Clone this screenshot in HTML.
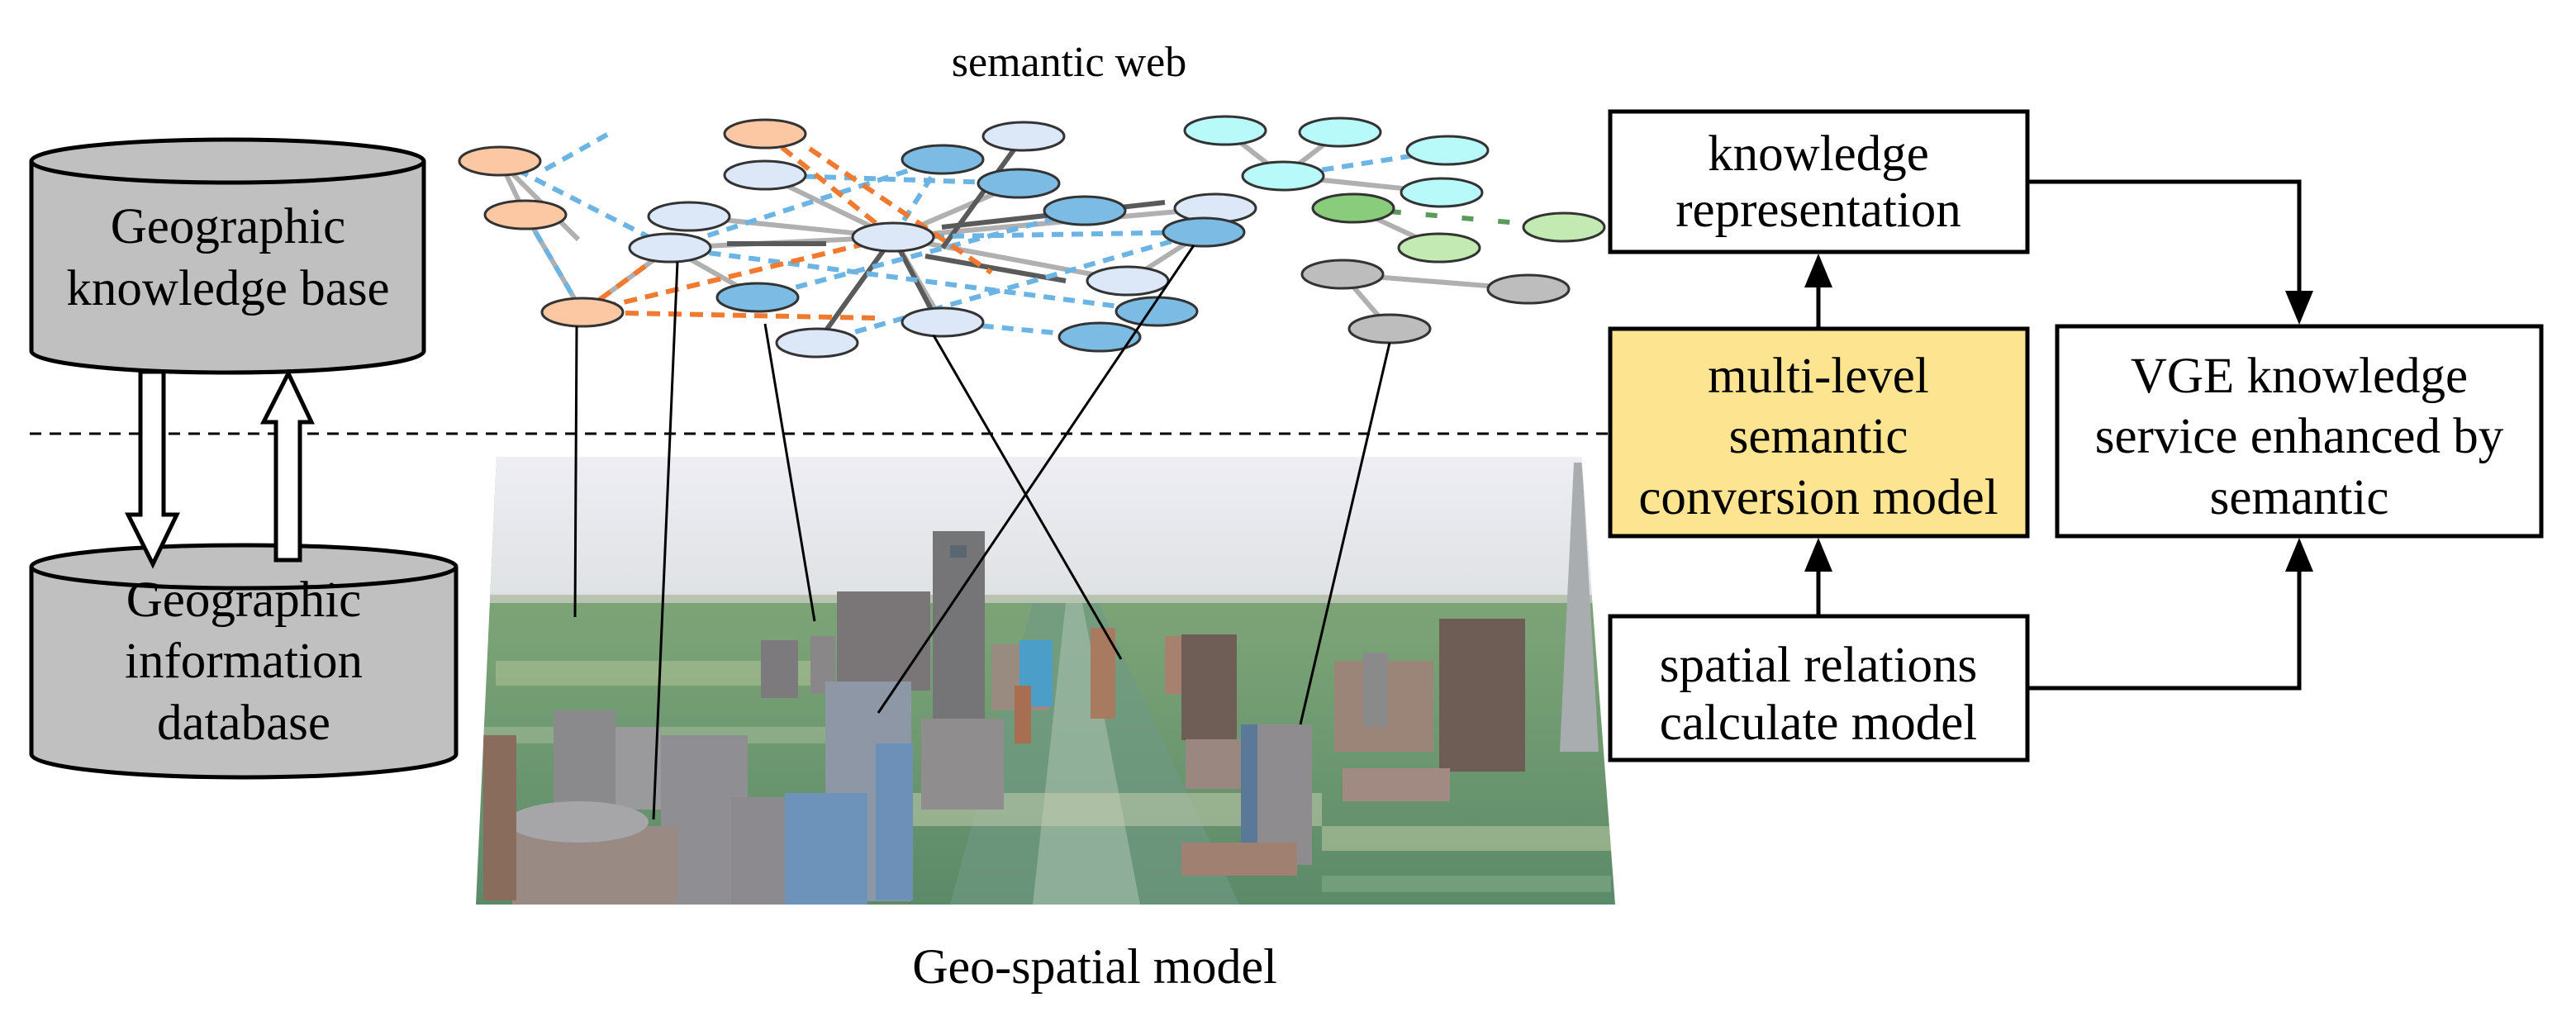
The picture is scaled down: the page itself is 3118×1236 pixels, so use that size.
<!DOCTYPE html>
<html><head><meta charset="utf-8"><style>
html,body{margin:0;padding:0;background:#fff}
svg{display:block}
text{font-family:"Liberation Serif",serif;fill:#000}
</style></head><body>
<svg width="3118" height="1236" viewBox="0 0 3118 1236" xmlns="http://www.w3.org/2000/svg">
<defs>
<linearGradient id="sky" x1="0" y1="0" x2="0" y2="1"><stop offset="0" stop-color="#eeeef4"/><stop offset="1" stop-color="#dfe2e4"/></linearGradient>
<linearGradient id="ground" x1="0" y1="0" x2="0" y2="1"><stop offset="0" stop-color="#86a87a"/><stop offset="0.4" stop-color="#7aa276"/><stop offset="1" stop-color="#5b8a68"/></linearGradient>
<clipPath id="cityclip"><polygon points="601,553 1914,553 1955,1095 576,1095"/></clipPath>
</defs>

<g clip-path="url(#cityclip)">
<rect x="570" y="550" width="1400" height="550" fill="url(#ground)"/>
<rect x="570" y="550" width="1400" height="172" fill="url(#sky)"/>
<rect x="570" y="720" width="1400" height="10" fill="#b8c4b0"/>
<polygon points="1250,730 1330,730 1500,1095 1150,1095" fill="#6f9a86" opacity="0.6"/>
<polygon points="1290,730 1310,730 1380,1095 1250,1095" fill="#a8bfae" opacity="0.6"/>
<rect x="1100" y="960" width="500" height="40" fill="#c9cfb2" opacity="0.5"/>
<rect x="600" y="800" width="400" height="30" fill="#b6c69a" opacity="0.5"/>
<rect x="1600" y="1000" width="350" height="30" fill="#c4d0a8" opacity="0.5"/>
<rect x="580" y="880" width="420" height="20" fill="#a9c0a0" opacity="0.5"/>
<rect x="1600" y="1060" width="350" height="20" fill="#88b090" opacity="0.5"/>
<polygon points="1905,560 1915,560 1935,910 1888,910" fill="#a9adb0"/>
<rect x="1200" y="780" width="70" height="80" fill="#9a8b80"/>
<rect x="1234" y="775" width="40" height="80" fill="#4a9ec8"/>
<rect x="1228" y="830" width="20" height="70" fill="#a86e52"/>
<rect x="1320" y="760" width="30" height="110" fill="#a87a60"/>
<rect x="1410" y="770" width="40" height="70" fill="#a88070"/>
<rect x="921" y="775" width="45" height="70" fill="#7c7a7c"/>
<rect x="981" y="770" width="30" height="70" fill="#8a8788"/>
<rect x="1013" y="716" width="113" height="120" fill="#7a7678"/>
<rect x="1129" y="643" width="63" height="250" fill="#757476"/>
<rect x="1150" y="660" width="20" height="15" fill="#5a6670"/>
<rect x="1430" y="768" width="67" height="128" fill="#6e5e56"/>
<rect x="1615" y="800" width="120" height="110" fill="#9a8578"/>
<rect x="1650" y="790" width="30" height="90" fill="#8a8a8a"/>
<rect x="1742" y="749" width="104" height="185" fill="#6e5d55"/>
<rect x="1435" y="895" width="130" height="60" fill="#9a8880"/>
<rect x="1625" y="930" width="130" height="40" fill="#a08a82"/>
<rect x="1115" y="870" width="100" height="110" fill="#8f8d8e"/>
<rect x="999" y="825" width="104" height="266" fill="#8d97a6"/>
<rect x="1060" y="900" width="45" height="190" fill="#6d90b8"/>
<rect x="1502" y="877" width="86" height="170" fill="#8e8c8e"/>
<rect x="1502" y="877" width="20" height="170" fill="#5a7898"/>
<rect x="1430" y="1020" width="140" height="40" fill="#a08070"/>
<rect x="670" y="860" width="75" height="180" fill="#8a8a8c"/>
<rect x="745" y="880" width="55" height="100" fill="#9a9a9c"/>
<rect x="800" y="890" width="105" height="205" fill="#8f8e92"/>
<rect x="620" y="1000" width="200" height="95" fill="#9a8a84"/>
<ellipse cx="700" cy="995" rx="85" ry="25" fill="#a6a6a8"/>
<rect x="885" y="965" width="110" height="130" fill="#8c8a8e"/>
<rect x="950" y="960" width="100" height="135" fill="#6d93bb"/>
<rect x="585" y="890" width="40" height="200" fill="#8a6c5c"/>
</g>

<g stroke-width="6" fill="none">
<g stroke="#b0b0b0">
<line x1="605" y1="195" x2="636" y2="260"/><line x1="605" y1="195" x2="700" y2="290"/><line x1="811" y1="300" x2="1081" y2="287"/>
<line x1="926" y1="212" x2="1081" y2="287"/><line x1="811" y1="300" x2="705" y2="378"/><line x1="811" y1="300" x2="917" y2="360"/>
<line x1="1081" y1="287" x2="1365" y2="340"/><line x1="1081" y1="287" x2="1233" y2="222"/><line x1="1081" y1="287" x2="1141" y2="390"/>
<line x1="1457" y1="281" x2="1365" y2="340"/><line x1="1081" y1="287" x2="1471" y2="252"/><line x1="834" y1="262" x2="1081" y2="287"/>
<line x1="1483" y1="158" x2="1553" y2="213"/><line x1="1622" y1="160" x2="1553" y2="213"/><line x1="1553" y1="213" x2="1745" y2="233"/>
<line x1="1638" y1="252" x2="1742" y2="300"/><line x1="1625" y1="332" x2="1682" y2="398"/><line x1="1625" y1="332" x2="1850" y2="350"/>
<line x1="705" y1="378" x2="636" y2="260"/>
</g>
<g stroke="#5a5a5a">
<line x1="1239" y1="165" x2="1141" y2="300"/><line x1="1081" y1="287" x2="989" y2="415"/><line x1="1081" y1="287" x2="1130" y2="380"/>
<line x1="880" y1="295" x2="1000" y2="295"/><line x1="1140" y1="275" x2="1410" y2="245"/><line x1="1120" y1="310" x2="1290" y2="340"/>
</g>
<g stroke="#6cb4e4" stroke-dasharray="14,10">
<line x1="605" y1="195" x2="811" y2="300"/><line x1="636" y1="260" x2="705" y2="378"/><line x1="811" y1="300" x2="1141" y2="193"/>
<line x1="660" y1="205" x2="740" y2="160"/><line x1="1081" y1="287" x2="1141" y2="193"/><line x1="1081" y1="287" x2="1457" y2="281"/>
<line x1="917" y1="360" x2="1313" y2="255"/><line x1="989" y1="415" x2="1457" y2="281"/><line x1="1141" y1="390" x2="1331" y2="408"/>
<line x1="811" y1="300" x2="1400" y2="377"/><line x1="926" y1="212" x2="1233" y2="222"/><line x1="1553" y1="213" x2="1752" y2="182"/>
</g>
<g stroke="#f07a30" stroke-dasharray="16,10">
<line x1="705" y1="378" x2="1081" y2="287"/><line x1="705" y1="378" x2="811" y2="300"/><line x1="705" y1="378" x2="1060" y2="385"/>
<line x1="926" y1="162" x2="1081" y2="287"/><line x1="980" y1="180" x2="1200" y2="330"/>
</g>
<g stroke="#5a9a5a" stroke-dasharray="14,30"><line x1="1638" y1="252" x2="1893" y2="275"/></g>
</g>

<g stroke="#333" stroke-width="3">
<g fill="#fcc8a4">
<ellipse cx="926" cy="162" rx="49" ry="17"/><ellipse cx="605" cy="195" rx="49" ry="17"/><ellipse cx="636" cy="260" rx="49" ry="17"/><ellipse cx="705" cy="378" rx="49" ry="17"/>
</g>
<g fill="#dce8f8">
<ellipse cx="1239" cy="165" rx="49" ry="17"/><ellipse cx="926" cy="212" rx="49" ry="17"/><ellipse cx="834" cy="262" rx="49" ry="17"/><ellipse cx="811" cy="300" rx="49" ry="17"/>
<ellipse cx="1081" cy="287" rx="49" ry="17"/><ellipse cx="1471" cy="252" rx="49" ry="17"/><ellipse cx="1365" cy="340" rx="49" ry="17"/><ellipse cx="1141" cy="390" rx="49" ry="17"/><ellipse cx="989" cy="415" rx="49" ry="17"/>
</g>
<g fill="#7cbce4">
<ellipse cx="1141" cy="193" rx="49" ry="17"/><ellipse cx="1233" cy="222" rx="49" ry="17"/><ellipse cx="1313" cy="255" rx="49" ry="17"/><ellipse cx="1457" cy="281" rx="49" ry="17"/>
<ellipse cx="917" cy="360" rx="49" ry="17"/><ellipse cx="1400" cy="377" rx="49" ry="17"/><ellipse cx="1331" cy="408" rx="49" ry="17"/>
</g>
<g fill="#b8fafa">
<ellipse cx="1483" cy="158" rx="49" ry="17"/><ellipse cx="1622" cy="160" rx="49" ry="17"/><ellipse cx="1752" cy="182" rx="49" ry="17"/><ellipse cx="1553" cy="213" rx="49" ry="17"/><ellipse cx="1745" cy="233" rx="49" ry="17"/>
</g>
<ellipse cx="1638" cy="252" rx="49" ry="17" fill="#88cc7c"/>
<ellipse cx="1893" cy="275" rx="49" ry="17" fill="#c4eab4"/>
<ellipse cx="1742" cy="300" rx="49" ry="17" fill="#c4eab4"/>
<g fill="#bdbdbd">
<ellipse cx="1625" cy="332" rx="49" ry="17"/><ellipse cx="1850" cy="350" rx="49" ry="17"/><ellipse cx="1682" cy="398" rx="49" ry="17"/>
</g>
</g>

<g stroke="#000" stroke-width="3">
<line x1="698" y1="395" x2="696" y2="747"/>
<line x1="820" y1="317" x2="791" y2="992"/>
<line x1="926" y1="392" x2="986" y2="752"/>
<line x1="1130" y1="406" x2="1357" y2="798"/>
<line x1="1445" y1="297" x2="1063" y2="863"/>
<line x1="1682" y1="415" x2="1574" y2="877"/>
</g>

<text x="1294" y="92" font-size="52" text-anchor="middle">semantic web</text>
<text x="1325" y="1190" font-size="60" text-anchor="middle">Geo-spatial model</text>

<line x1="36" y1="525" x2="1950" y2="525" stroke="#000" stroke-width="3" stroke-dasharray="14,10"/>

<g stroke="#000" stroke-width="5" fill="#c0c0c0">
<path d="M38,195 L38,425 A237.5,26 0 0 0 513,425 L513,195"/>
<ellipse cx="275.5" cy="195" rx="237.5" ry="26"/>
<path d="M38,686 L38,913 A257,28 0 0 0 552,913 L552,686"/>
<ellipse cx="295" cy="686" rx="257" ry="26"/>
</g>
<g font-size="61" text-anchor="middle">
<text x="276" y="294">Geographic</text>
<text x="276" y="369">knowledge base</text>
<text x="295" y="746">Geographic</text>
<text x="295" y="820">information</text>
<text x="295" y="895">database</text>
</g>
<g stroke="#000" stroke-width="5" fill="#fff">
<polygon points="170,450 198,450 198,623 214,623 185,683 155,623 170,623"/>
<polygon points="334,678 363,678 363,511 377,511 349,452 319,511 334,511"/>
</g>

<g stroke="#000" stroke-width="5">
<rect x="1949" y="135" width="505" height="170" fill="#fff"/>
<rect x="1949" y="398" width="505" height="251" fill="#fde491"/>
<rect x="1949" y="746" width="505" height="174" fill="#fff"/>
<rect x="2490" y="395" width="586" height="254" fill="#fff"/>
</g>
<g stroke="#000" stroke-width="5" fill="none">
<line x1="2201" y1="398" x2="2201" y2="340"/>
<line x1="2201" y1="746" x2="2201" y2="690"/>
<polyline points="2454,220 2783,220 2783,355"/>
<polyline points="2454,833 2783,833 2783,690"/>
</g>
<g fill="#000">
<polygon points="2201,307 2184,348 2218,348"/>
<polygon points="2201,651 2184,692 2218,692"/>
<polygon points="2783,393 2766,352 2800,352"/>
<polygon points="2783,651 2766,692 2800,692"/>
</g>
<g font-size="61" text-anchor="middle">
<text x="2201" y="206">knowledge</text>
<text x="2201" y="274">representation</text>
<text x="2201" y="475">multi-level</text>
<text x="2201" y="548">semantic</text>
<text x="2201" y="622">conversion model</text>
<text x="2201" y="825">spatial relations</text>
<text x="2201" y="895">calculate model</text>
<text x="2783" y="475">VGE knowledge</text>
<text x="2783" y="548">service enhanced by</text>
<text x="2783" y="622">semantic</text>
</g>
</svg>
</body></html>
